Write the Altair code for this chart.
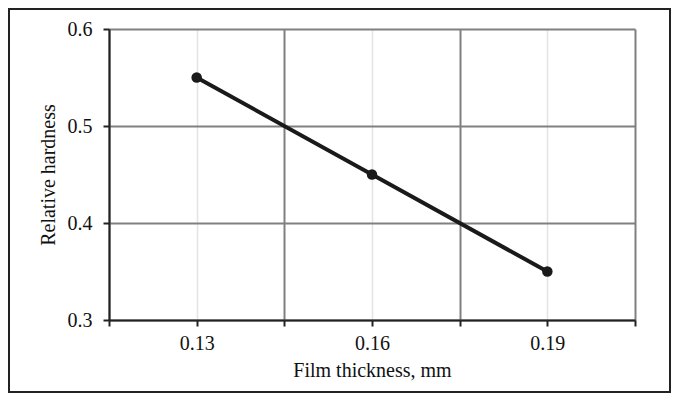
import altair as alt
import pandas as pd

# Data
thickness = [0.13, 0.16, 0.19]
hardness = [0.55, 0.45, 0.35]

x_ticks = [0.115, 0.13, 0.145, 0.16, 0.175, 0.19, 0.205]
y_ticks = [0.3, 0.4, 0.5, 0.6]

df = pd.DataFrame({"thickness": thickness, "hardness": hardness})

FONT = "Liberation Serif"
FS = 20
W, H = 526, 291
PAD = {"left": 101, "top": 21, "right": 36, "bottom": 73}

is_boundary = "abs(datum.value*100 - round(datum.value*100)) > 0.01"

common = dict(
    labelFont=FONT,
    titleFont=FONT,
    labelFontSize=FS,
    titleFontSize=FS,
    labelColor="#111111",
    titleColor="#111111",
    titleFontWeight="normal",
    domainColor="#222222",
    domainWidth=2,
    tickColor="#222222",
    tickWidth=2,
    tickSize=6,
)

x_enc = alt.X(
    "thickness:Q",
    scale=alt.Scale(domain=[0.115, 0.205], nice=False, zero=False),
    axis=alt.Axis(
        values=x_ticks,
        labelExpr=f"{is_boundary} ? '' : format(datum.value, '.2f')",
        title="Film thickness, mm",
        gridColor={"condition": {"test": is_boundary, "value": "#808080"}, "value": "#e4e4e4"},
        gridWidth={"condition": {"test": is_boundary, "value": 2}, "value": 1.5},
        labelPadding=7,
        titlePadding=7,
        **common,
    ),
)

y_enc = alt.Y(
    "hardness:Q",
    scale=alt.Scale(domain=[0.3, 0.6], nice=False, zero=False),
    axis=alt.Axis(
        values=y_ticks,
        format=".1f",
        title="Relative hardness",
        gridColor="#808080",
        gridWidth=2,
        labelPadding=11,
        titlePadding=9,
        **common,
    ),
)

base = alt.Chart(df)
line = base.mark_line(color="#1a1a1a", strokeWidth=4).encode(x=x_enc, y=y_enc)
pts = base.mark_point(filled=True, color="#1a1a1a", size=110, opacity=1).encode(x="thickness:Q", y="hardness:Q")

frame = alt.Chart(pd.DataFrame({"a": [0]})).mark_rect(
    fill=None, stroke="#222222", strokeWidth=2
).encode(
    x=alt.value(-PAD["left"] + 1),
    x2=alt.value(W + PAD["right"] - 1),
    y=alt.value(-PAD["top"] + 1),
    y2=alt.value(H + PAD["bottom"] - 1),
)

chart = alt.layer(line, pts, frame).properties(
    width=W,
    height=H,
    autosize=alt.AutoSizeParams(type="none"),
    padding=PAD,
    background="white",
).configure_view(
    stroke=None
)

chart.save("out.html", embed_options={"renderer": "svg", "actions": False})
